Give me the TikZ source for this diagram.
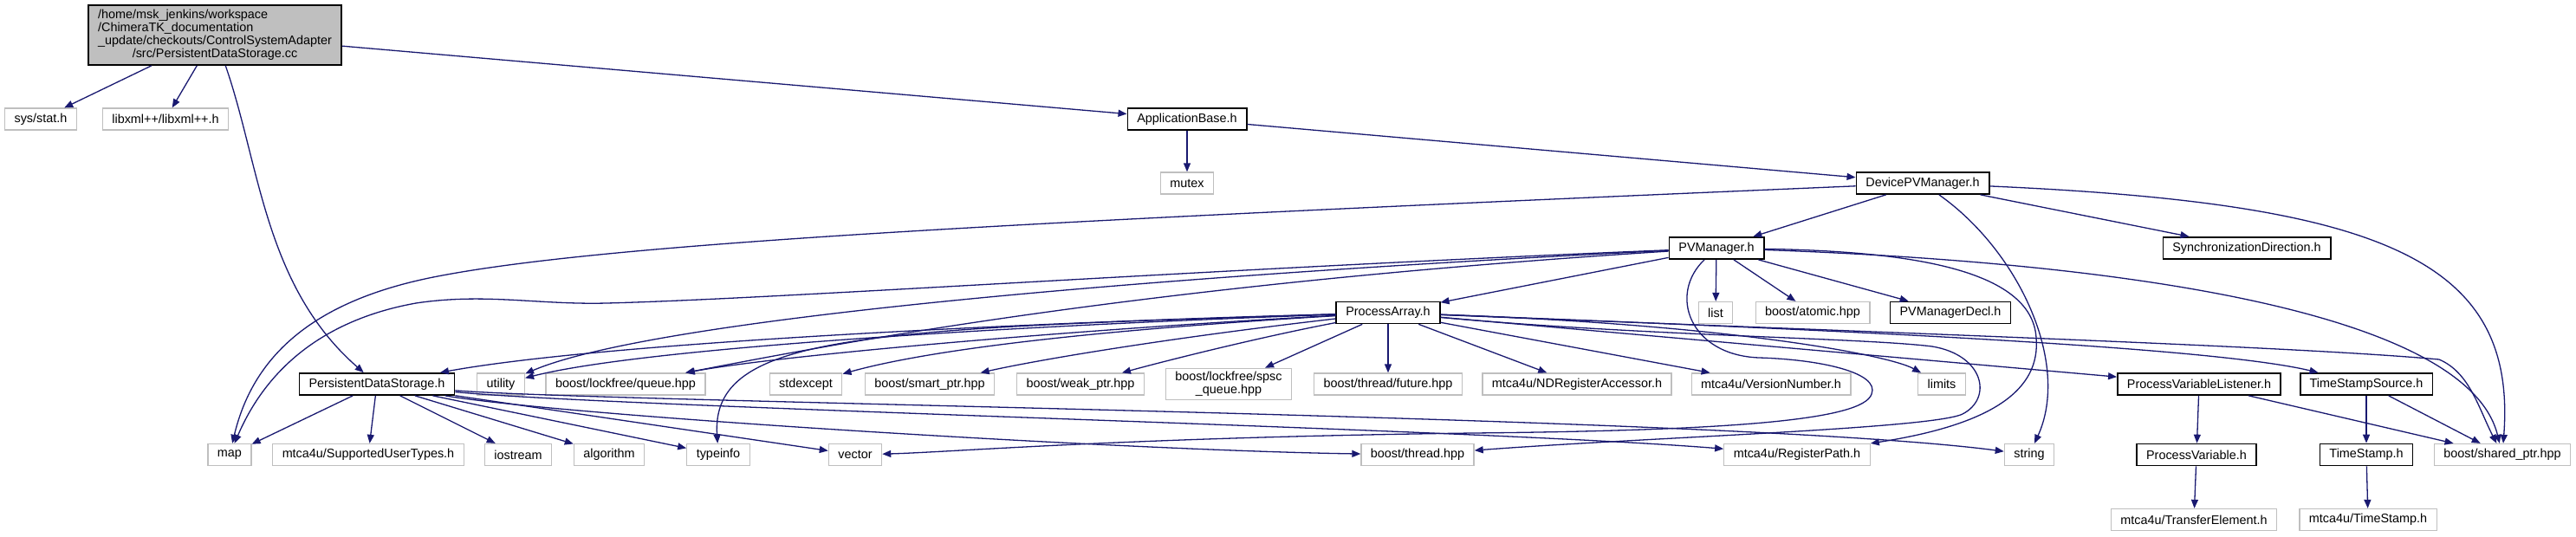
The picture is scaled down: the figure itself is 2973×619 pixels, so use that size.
\documentclass[tikz,border=0pt]{standalone}
\usepackage{fontspec}
\setmainfont{Liberation Sans}
\usetikzlibrary{arrows.meta}
\definecolor{edgecol}{RGB}{25,25,112}
\definecolor{lgray}{RGB}{191,191,191}
\definecolor{rootfill}{RGB}{191,191,191}
\begin{document}
\begin{tikzpicture}[x=1pt,y=-1pt,
  every node/.style={font=\fontsize{14.4}{15}\selectfont, inner xsep=11pt, inner ysep=0pt, minimum height=25pt, fill=white, line width=1.3pt},
  ext/.style={draw=lgray},
  doc/.style={draw=black, line width=1.7pt},
  edge/.style={draw=edgecol, line width=1.3pt, -{Triangle[length=10pt,width=8pt]}},
]
\useasboundingbox (0,0) rectangle (2973,619);
% row 1
\node[doc, fill=rootfill, minimum height=69pt, inner ysep=4pt] (root) at (248,40.5) {\begin{tabular}{@{}l@{}}/home/msk\_jenkins/workspace\\/ChimeraTK\_documentation\\\_update/checkouts/ControlSystemAdapter\\\multicolumn{1}{@{}c@{}}{/src/PersistentDataStorage.cc}\end{tabular}};
% row 2
\node[ext] (sysstat) at (47,137.5) {sys/stat.h};
\node[ext] (libxml) at (191,137.5) {libxml++/libxml++.h};
\node[doc] (appbase) at (1370,137.5) {ApplicationBase.h};
% row 3
\node[ext] (mutex) at (1370,211.5) {mutex};
\node[doc] (devpv) at (2219,211.5) {DevicePVManager.h};
% row 4
\node[doc] (pvm) at (1981,286.5) {PVManager.h};
\node[doc] (syncdir) at (2593,286.5) {SynchronizationDirection.h};
% row 5
\node[doc] (parray) at (1602,361) {ProcessArray.h};
\node[ext] (list) at (1980,361) {list};
\node[ext] (atomic) at (2092,361) {boost/atomic.hpp};
\node[doc] (pvmdecl) at (2251,361) {PVManagerDecl.h};
% row 6
\node[doc] (pds) at (435,443.5) {PersistentDataStorage.h};
\node[ext] (utility) at (578,443.5) {utility};
\node[ext] (lfqueue) at (722,443.5) {boost/lockfree/queue.hpp};
\node[ext] (stdexcept) at (930,443.5) {stdexcept};
\node[ext] (smartptr) at (1073,443.5) {boost/smart\_ptr.hpp};
\node[ext] (weakptr) at (1247,443.5) {boost/weak\_ptr.hpp};
\node[ext, align=center, inner ysep=4pt] (spsc) at (1418,443.5) {boost/lockfree/spsc\\\_queue.hpp};
\node[ext] (future) at (1602,443.5) {boost/thread/future.hpp};
\node[ext] (ndreg) at (1820,443.5) {mtca4u/NDRegisterAccessor.h};
\node[ext] (version) at (2044,443.5) {mtca4u/VersionNumber.h};
\node[ext] (limits) at (2241,443.5) {limits};
\node[doc] (pvlist) at (2538,443.5) {ProcessVariableListener.h};
\node[doc] (tss) at (2731,443.5) {TimeStampSource.h};
% row 7
\node[ext] (map) at (265,525) {map};
\node[ext] (sut) at (425,525) {mtca4u/SupportedUserTypes.h};
\node[ext] (iostream) at (598,525) {iostream};
\node[ext] (algorithm) at (703,525) {algorithm};
\node[ext] (typeinfo) at (829,525) {typeinfo};
\node[ext] (vector) at (987,525) {vector};
\node[ext] (bthread) at (1636,525) {boost/thread.hpp};
\node[ext] (regpath) at (2074,525) {mtca4u/RegisterPath.h};
\node[ext] (string) at (2342,525) {string};
\node[doc] (pvar) at (2535,525) {ProcessVariable.h};
\node[doc] (tstamp) at (2731,525) {TimeStamp.h};
\node[ext] (sharedptr) at (2888,525) {boost/shared\_ptr.hpp};
% row 8
\node[ext] (transfer) at (2532,600) {mtca4u/TransferElement.h};
\node[ext] (mtstamp) at (2733,600) {mtca4u/TimeStamp.h};

% root
\draw[edge] (root) -- (sysstat);
\draw[edge] (root) -- (libxml);
\draw[edge] (root) .. controls (300,190) and (305,330) .. (pds);
\draw[edge] (root) -- (appbase);
% appbase
\draw[edge] (appbase) -- (mutex);
\draw[edge] (appbase) -- (devpv);
% devpv
\draw[edge] (devpv) -- (pvm);
\draw[edge] (devpv) -- (syncdir);
\draw[edge] (devpv) .. controls (1200,255) and (700,280) .. (500,320) .. controls (350,350) and (290,420) .. (map);
\draw[edge] (devpv) .. controls (2330,290) and (2390,420) .. (string);
\draw[edge] (devpv) .. controls (2750,235) and (2905,300) .. (sharedptr);
% pvm
\draw[edge] (pvm) -- (list);
\draw[edge] (pvm) -- (atomic);
\draw[edge] (pvm) -- (pvmdecl);
\draw[edge] (pvm) -- (parray);
\draw[edge] (pvm) .. controls (1400,310) and (900,345) .. (700,350) .. controls (620,352) and (560,338) .. (480,350) .. controls (380,368) and (310,420) .. (map);
\draw[edge] (pvm) .. controls (1300,320) and (750,370) .. (utility);
\draw[edge] (pvm) .. controls (1300,330) and (950,400) .. (lfqueue);
\draw[edge] (pvm) .. controls (1925,340) and (1950,410) .. (2030,413) .. controls (2100,415) and (2170,430) .. (2160,455) .. controls (2150,485) and (2000,497) .. (1700,500) .. controls (1300,505) and (1100,522) .. (vector);
\draw[edge] (pvm) .. controls (2200,290) and (2345,310) .. (2350,390) .. controls (2355,450) and (2300,490) .. (regpath);
\draw[edge] (pvm) .. controls (2500,305) and (2850,370) .. (sharedptr);
% parray
\draw[edge] (parray) .. controls (1200,372) and (700,395) .. (pds);
\draw[edge] (parray) .. controls (1200,375) and (750,400) .. (utility);
\draw[edge] (parray) .. controls (1250,380) and (900,410) .. (lfqueue);
\draw[edge] (parray) .. controls (1000,380) and (820,385) .. (typeinfo);
\draw[edge] (parray) .. controls (1200,385) and (1050,410) .. (stdexcept);
\draw[edge] (parray) .. controls (1350,390) and (1200,415) .. (smartptr);
\draw[edge] (parray) .. controls (1450,390) and (1340,418) .. (weakptr);
\draw[edge] (parray) -- (spsc);
\draw[edge] (parray) -- (future);
\draw[edge] (parray) -- (ndreg);
\draw[edge] (parray) -- (version);
\draw[edge] (parray) .. controls (2000,375) and (2180,410) .. (limits);
\draw[edge] (parray) -- (pvlist);
\draw[edge] (parray) .. controls (2100,380) and (2550,400) .. (tss);
\draw[edge] (parray) .. controls (2200,385) and (2650,400) .. (2815,415) .. controls (2850,430) and (2860,470) .. (sharedptr);
\draw[edge] (parray) .. controls (1900,388) and (2150,390) .. (2230,400) .. controls (2290,410) and (2300,460) .. (2265,478) .. controls (2230,495) and (1900,505) .. (bthread);
% pds
\draw[edge] (pds) -- (map);
\draw[edge] (pds) -- (sut);
\draw[edge] (pds) -- (iostream);
\draw[edge] (pds) -- (algorithm);
\draw[edge] (pds) -- (typeinfo);
\draw[edge] (pds) -- (vector);
\draw[edge] (pds) .. controls (650,480) and (1300,520) .. (bthread);
\draw[edge] (pds) .. controls (700,470) and (1700,495) .. (regpath);
\draw[edge] (pds) .. controls (700,465) and (2000,480) .. (string);
% lower
\draw[edge] (pvlist) -- (pvar);
\draw[edge] (pvlist) -- (sharedptr);
\draw[edge] (tss) -- (tstamp);
\draw[edge] (tss) -- (sharedptr);
\draw[edge] (pvar) -- (transfer);
\draw[edge] (tstamp) -- (mtstamp);
\end{tikzpicture}
\end{document}
